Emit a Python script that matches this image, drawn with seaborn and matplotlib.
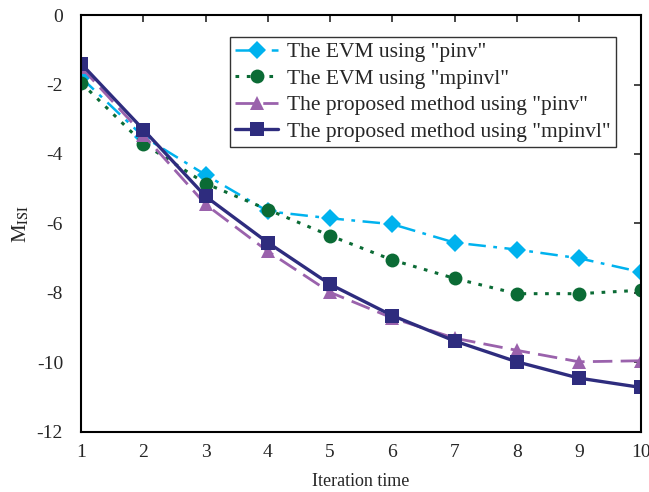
import numpy as np
import pandas as pd
import seaborn as sns
import matplotlib.pyplot as plt

# Data
iterations = [1, 2, 3, 4, 5, 6, 7, 8, 9, 10]
evm_pinv = [-1.8, -3.5, -4.6, -5.65, -5.85, -6.02, -6.55, -6.75, -7.0, -7.4]
evm_mpinvl = [-1.95, -3.7, -4.85, -5.6, -6.35, -7.05, -7.58, -8.02, -8.02, -7.92]
prop_pinv = [-1.5, -3.45, -5.45, -6.8, -7.98, -8.72, -9.3, -9.65, -9.98, -9.95]
prop_mpinvl = [-1.4, -3.3, -5.22, -6.55, -7.75, -8.65, -9.38, -9.98, -10.45, -10.72]

labels = ['The EVM using "pinv"', 'The EVM using "mpinvl"',
          'The proposed method using "pinv"', 'The proposed method using "mpinvl"']
series = [evm_pinv, evm_mpinvl, prop_pinv, prop_mpinvl]

# Styles for each line
colors = ['#00B2EE', '#0B6B35', '#9A62AC', '#2E2C7E']
markers = ['D', 'o', '^', 's']
styles = [(0, (7, 3, 1.5, 3)), (0, (1.2, 2.5)), (0, (7, 3)), '-']
msizes = [9, 10, 10, 10]
widths = [1.8, 2.2, 2.0, 2.4]

sns.set_style('white')
plt.rcParams['font.family'] = ['Liberation Serif', 'DejaVu Serif']
plt.rcParams['mathtext.fontset'] = 'stix'
plt.rcParams['axes.unicode_minus'] = False

fig = plt.figure(figsize=(6.49, 4.92), dpi=100)
ax = fig.add_axes([0.125, 0.122, 0.863, 0.8475])

for i in range(4):
    sns.lineplot(x=iterations, y=series[i], ax=ax, color=colors[i], marker=markers[i],
                 linestyle=styles[i], markersize=msizes[i], linewidth=widths[i],
                 markeredgewidth=0, label=labels[i])

ax.set_xlim(1, 10)
ax.set_ylim(-12, 0)
ax.set_xticks(range(1, 11))
ax.set_yticks(range(-12, 1, 2))
ax.tick_params(direction='in', top=True, right=True, labelsize=14, length=5, width=1.2)
ax.tick_params(axis='x', pad=9)
ax.tick_params(axis='y', pad=13)
for s in ax.spines.values():
    s.set_color('black')
    s.set_linewidth(1.5)

ax.set_xlabel('Iteration time', fontsize=13, labelpad=8)
ax.set_ylabel(r'M$_{\rm ISI}$', fontsize=15, labelpad=4)

leg = ax.legend(loc='upper right', bbox_to_anchor=(0.955, 0.948), fontsize=15.5, frameon=True,
                fancybox=False, edgecolor='black', handlelength=2.0, handletextpad=0.4,
                borderpad=0.25, labelspacing=0.3, borderaxespad=0)
leg.get_frame().set_linewidth(1.0)

plt.savefig('out.png', dpi=100)
